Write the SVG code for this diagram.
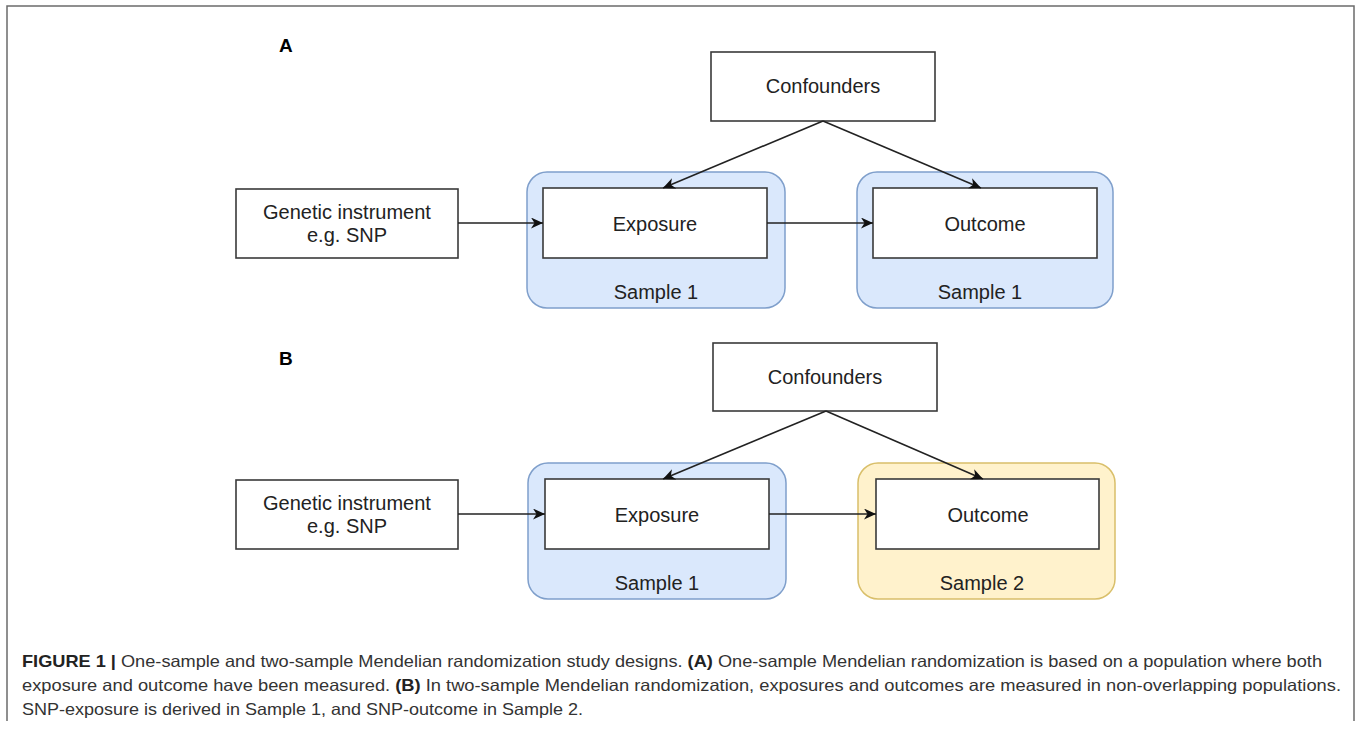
<svg xmlns="http://www.w3.org/2000/svg" width="1358" height="729" viewBox="0 0 1358 729">
<defs>
<style>
.frame{fill:none;stroke:#6b6b6b;stroke-width:1.5}
.box{fill:#ffffff;stroke:#3a3a3a;stroke-width:1.6}
.blue{fill:#dae8fc;stroke:#7f9fcb;stroke-width:1.5}
.yellow{fill:#fff2cc;stroke:#d9bf6a;stroke-width:1.5}
.edge{fill:none;stroke:#222;stroke-width:1.6}
.t{font-family:"Liberation Sans",Arial,sans-serif;font-size:20px;fill:#222;text-anchor:middle}
.lab{font-family:"Liberation Sans",Arial,sans-serif;font-size:19px;font-weight:bold;fill:#000}
.cap{font-family:"Liberation Sans",Arial,sans-serif;font-size:16.5px;fill:#333}
.b{font-weight:bold;fill:#222}
</style>
<marker id="arr" markerUnits="userSpaceOnUse" markerWidth="13" markerHeight="11" refX="12" refY="5.5" orient="auto">
<path d="M0,0 L12,5.5 L0,11 L3.5,5.5 z" fill="#111"/>
</marker>
</defs>
<rect width="1358" height="729" fill="#ffffff"/>
<path class="frame" d="M7,721 V6 H1354 V721"/>

<text class="lab" x="279" y="52">A</text>
<text class="lab" x="279" y="365">B</text>

<g id="a-sample1-exposure">
<rect class="blue" x="527" y="172" width="258" height="136" rx="20"/>
<text class="t" x="656" y="299">Sample 1</text>
</g>
<g id="a-sample1-outcome">
<rect class="blue" x="857" y="172" width="256" height="136" rx="20"/>
<text class="t" x="980" y="299">Sample 1</text>
</g>
<g id="a-confounders">
<rect class="box" x="711" y="52" width="224" height="69"/>
<text class="t" x="823" y="93">Confounders</text>
</g>
<g id="a-genetic">
<rect class="box" x="236" y="189" width="222" height="69"/>
<text class="t" x="347" y="219">Genetic instrument</text>
<text class="t" x="347" y="242">e.g. SNP</text>
</g>
<g id="a-exposure">
<rect class="box" x="543" y="188" width="224" height="70"/>
<text class="t" x="655" y="231">Exposure</text>
</g>
<g id="a-outcome">
<rect class="box" x="873" y="188" width="224" height="70"/>
<text class="t" x="985" y="231">Outcome</text>
</g>

<g id="b-sample1-exposure">
<rect class="blue" x="528" y="463" width="258" height="136" rx="20"/>
<text class="t" x="657" y="590">Sample 1</text>
</g>
<g id="b-sample2-outcome">
<rect class="yellow" x="858" y="463" width="257" height="136" rx="20"/>
<text class="t" x="982" y="590">Sample 2</text>
</g>
<g id="b-confounders">
<rect class="box" x="713" y="343" width="224" height="68"/>
<text class="t" x="825" y="384">Confounders</text>
</g>
<g id="b-genetic">
<rect class="box" x="236" y="480" width="222" height="69"/>
<text class="t" x="347" y="510">Genetic instrument</text>
<text class="t" x="347" y="533">e.g. SNP</text>
</g>
<g id="b-exposure">
<rect class="box" x="545" y="479" width="224" height="70"/>
<text class="t" x="657" y="522">Exposure</text>
</g>
<g id="b-outcome">
<rect class="box" x="876" y="479" width="223" height="70"/>
<text class="t" x="988" y="522">Outcome</text>
</g>

<g id="connectors">
<line class="edge" x1="458" y1="223" x2="543" y2="223" marker-end="url(#arr)"/>
<line class="edge" x1="767" y1="223" x2="873" y2="223" marker-end="url(#arr)"/>
<line class="edge" x1="823" y1="121" x2="663" y2="188" marker-end="url(#arr)"/>
<line class="edge" x1="823" y1="121" x2="981" y2="188" marker-end="url(#arr)"/>
<line class="edge" x1="458" y1="514" x2="545" y2="514" marker-end="url(#arr)"/>
<line class="edge" x1="769" y1="514" x2="876" y2="514" marker-end="url(#arr)"/>
<line class="edge" x1="826" y1="411" x2="663" y2="479" marker-end="url(#arr)"/>
<line class="edge" x1="826" y1="411" x2="983" y2="479" marker-end="url(#arr)"/>
</g>

<g id="caption">
<text class="cap" x="22" y="667" textLength="1300" lengthAdjust="spacingAndGlyphs"><tspan class="b">FIGURE 1 |</tspan> One-sample and two-sample Mendelian randomization study designs. <tspan class="b">(A)</tspan> One-sample Mendelian randomization is based on a population where both</text>
<text class="cap" x="22" y="691" textLength="1319" lengthAdjust="spacingAndGlyphs">exposure and outcome have been measured. <tspan class="b">(B)</tspan> In two-sample Mendelian randomization, exposures and outcomes are measured in non-overlapping populations.</text>
<text class="cap" x="22" y="715" textLength="561" lengthAdjust="spacingAndGlyphs">SNP-exposure is derived in Sample 1, and SNP-outcome in Sample 2.</text>
</g>
</svg>
